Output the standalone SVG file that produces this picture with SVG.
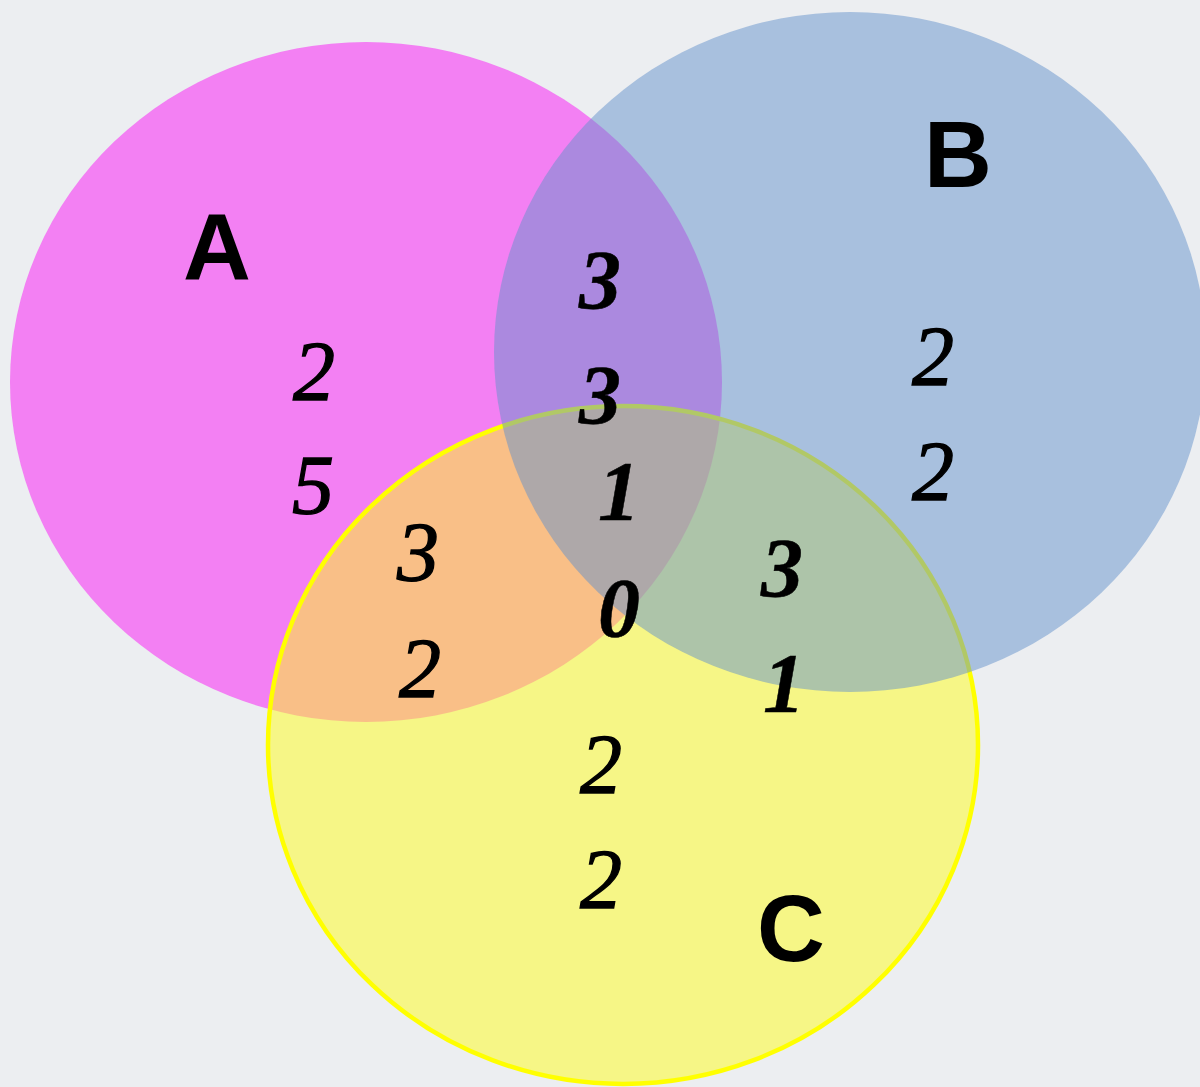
<svg xmlns="http://www.w3.org/2000/svg" width="1200" height="1087" viewBox="0 0 1200 1087">
<style>
.set{opacity:0.5}
.lbl{font-family:"Liberation Sans",Arial,sans-serif;font-weight:bold;font-size:94px;fill:#000;text-anchor:middle}
.num{font-family:"Liberation Serif","Times New Roman",serif;font-style:italic;font-size:84px;fill:#000;stroke:#000;stroke-width:1.3;text-anchor:middle}
.b{font-weight:bold;stroke-width:0.5}
</style>
<rect x="0" y="0" width="1200" height="1087" fill="#eceef1"/>
<g id="setA"><ellipse cx="366" cy="382" rx="356" ry="340" fill="#fa12f5" class="set"/></g>
<g id="setC"><ellipse cx="623" cy="745" rx="355" ry="339" fill="#fffe1b" class="set"/><ellipse cx="623" cy="745" rx="355" ry="339" fill="none" stroke="#ffff00" stroke-width="4.5"/></g>
<g id="setB"><ellipse cx="850" cy="352" rx="356" ry="340" fill="#6492cb" class="set"/></g>
<g id="connectors"></g>
<g id="labels">
<text class="lbl" x="217" y="280">A</text>
<text class="lbl" x="958" y="187">B</text>
<text class="lbl" x="791" y="961">C</text>
</g>
<g id="regionA"><text class="num" x="314" y="400">2</text><text class="num" x="313" y="514">5</text></g>
<g id="regionAB"><text class="num b" x="600" y="309">3</text><text class="num b" x="600" y="424">3</text></g>
<g id="regionABC"><text class="num b" x="619" y="520">1</text><text class="num b" x="619" y="637">0</text></g>
<g id="regionAC"><text class="num" x="418" y="581">3</text><text class="num" x="420" y="697">2</text></g>
<g id="regionB"><text class="num" x="933" y="385">2</text><text class="num" x="933" y="500">2</text></g>
<g id="regionBC"><text class="num b" x="782" y="597">3</text><text class="num b" x="784" y="712">1</text></g>
<g id="regionC"><text class="num" x="601" y="793">2</text><text class="num" x="601" y="908">2</text></g>
</svg>
